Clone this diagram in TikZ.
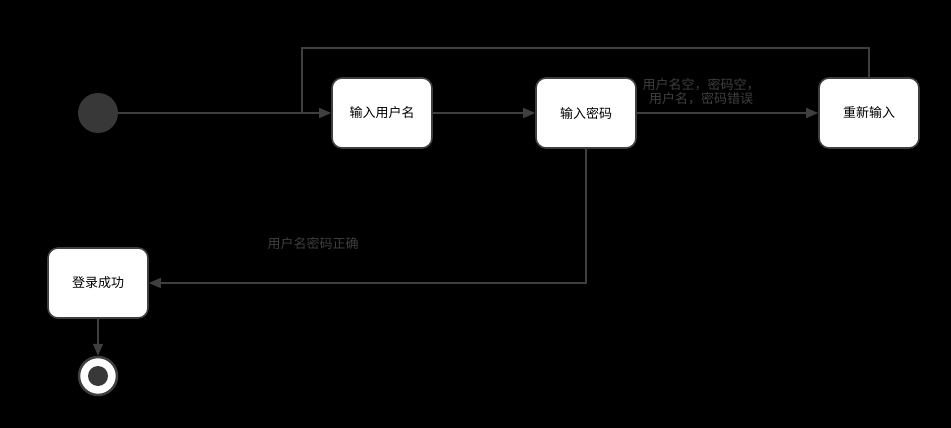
\documentclass[tikz,border=0pt]{standalone}
\usepackage{fontspec}
\setmainfont{Noto Sans CJK SC}
\usetikzlibrary{arrows.meta}
\definecolor{linegray}{HTML}{3F3F3F}
\definecolor{dotgray}{HTML}{383838}
\tikzset{
  state/.style={draw=linegray, line width=1.6pt, fill=white, rounded corners=10pt,
    minimum width=100pt, minimum height=70pt, inner sep=0pt, font=\fontsize{13}{15}\selectfont},
  flow/.style={draw=linegray, line width=1.4pt, -{Triangle[length=12pt,width=10pt]}},
  guard/.style={text=linegray, font=\fontsize{13}{14}\selectfont, align=center}
}
\begin{document}
\begin{tikzpicture}[x=1pt, y=-1pt]
  % background
  \fill[black] (0,0) rectangle (951,428);
  \useasboundingbox (0,0) rectangle (951,428);

  % states
  \node[circle, fill=dotgray, minimum size=40pt, inner sep=0pt] (start) at (98,113) {};
  \node[state] (user) at (382,113) {输入用户名};
  \node[state] (pwd) at (586,113) {输入密码};
  \node[state] (retry) at (869,113) {重新输入};
  \node[state] (ok) at (98,283) {登录成功};
  \node[circle, draw=linegray, line width=2.5pt, fill=white, minimum size=38pt, inner sep=0pt] (stop) at (98,376) {};
  \fill[dotgray] (stop) circle (10pt);

  % transitions
  \coordinate (join) at (302,113);
  \draw[flow] (start) -- (user);
  \draw[flow] (user) -- (pwd);
  \draw[flow] (pwd) -- (retry);
  \draw[draw=linegray, line width=1.4pt] (retry.north) |- (302,48) -- (join);
  \draw[flow] (pwd.south) |- (ok.east);
  \draw[flow] (ok) -- (stop);

  % guards
  \node[guard] (g1) at (701,92) {用户名空，密码空，\\用户名，密码错误};
  \node[guard] (g2) at (313,244) {用户名密码正确};
\end{tikzpicture}
\end{document}
